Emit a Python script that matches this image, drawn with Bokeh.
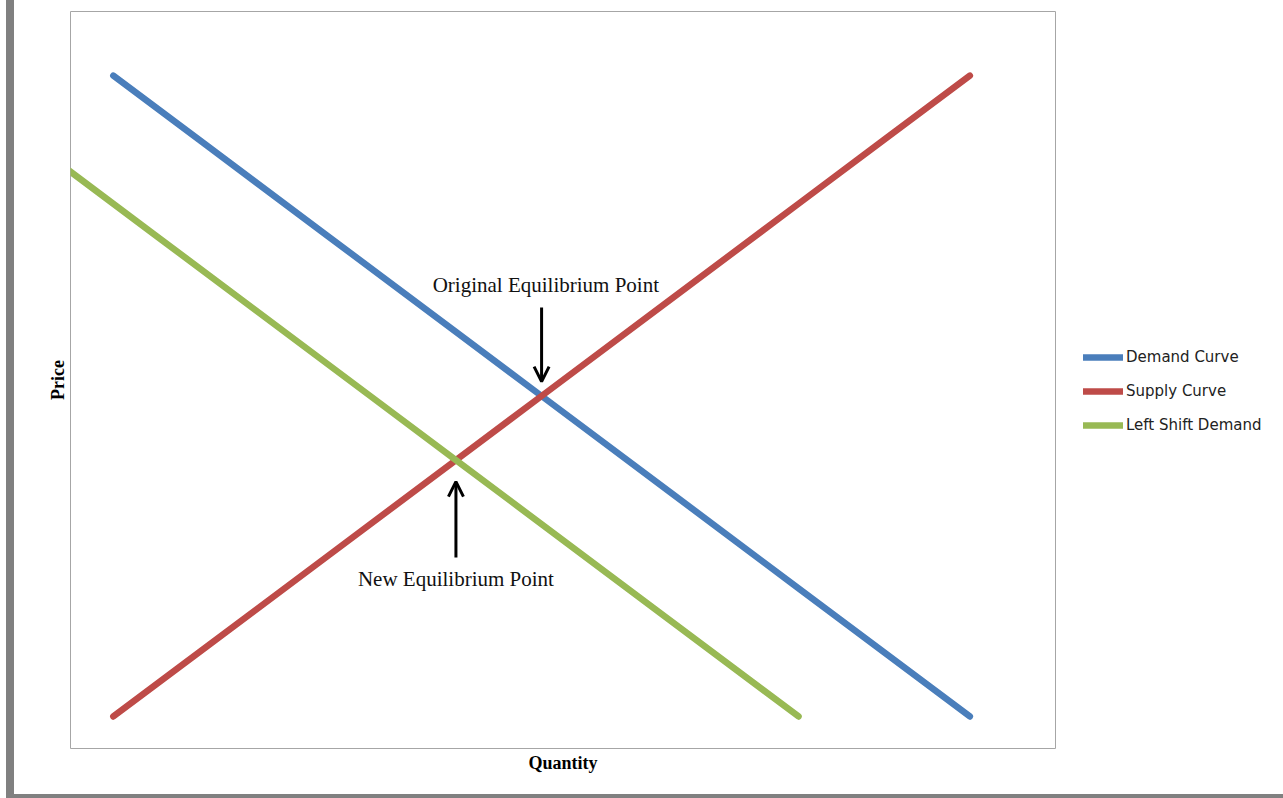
from bokeh.plotting import figure
from bokeh.models import Range1d, Legend, LegendItem, Arrow, OpenHead, Label, FixedTicker
from bokeh.embed import file_html
from bokeh.resources import INLINE

# Curve data (quantity, price)
quantity = [1, 2, 3, 6, 9, 11, 14, 17, 19, 21]
demand_price = [21, 20, 19, 16, 13, 11, 8, 5, 3, 1]
supply_price = [1, 2, 3, 6, 9, 11, 14, 17, 19, 21]
shift_quantity = [-1, 0, 2, 7, 9, 14, 17]
shift_price = [19, 18, 16, 11, 9, 4, 1]

series_names = ["Demand Curve", "Supply Curve", "Left Shift Demand"]
series_colors = ["#4A7EBB", "#BE4B48", "#98B954"]

original_eq = (11, 11)
new_eq = (9, 9)

p = figure(
    output_backend="svg", toolbar_location=None,
    frame_width=985, frame_height=737,
    min_border_left=70, min_border_right=228, min_border_top=11, min_border_bottom=50,
    x_range=Range1d(0, 23), y_range=Range1d(0, 23),
    background_fill_color="white", border_fill_color=None,
)
# grey page edges (left, right, bottom), painted behind the transparent canvas border
p.styles = {
    "box-shadow": "inset 6px 0 0 #ffffff, inset 14px 0 0 #808080, "
                  "inset -5px 0 0 #808080, inset 0 -4px 0 #808080",
    "background-color": "#ffffff",
}
p.outline_line_color = "#A6A6A6"
p.outline_line_width = 1
p.grid.visible = False

for ax in (p.xaxis[0], p.yaxis[0]):
    ax.ticker = FixedTicker(ticks=[])
    ax.axis_line_color = None
    ax.major_tick_line_color = None
    ax.minor_tick_line_color = None
    ax.major_label_text_font_size = "0px"
    ax.axis_label_text_font = "Liberation Serif"
    ax.axis_label_text_font_style = "bold"
    ax.axis_label_text_font_size = "18px"
    ax.axis_label_text_color = "black"
p.xaxis.axis_label = "Quantity"
p.yaxis.axis_label = "Price"
p.xaxis.axis_label_standoff = 4
p.yaxis.axis_label_standoff = 3

lw = 6.5
r_d = p.line(quantity, demand_price, line_color=series_colors[0], line_width=lw, line_cap="round", line_join="round")
r_s = p.line(quantity, supply_price, line_color=series_colors[1], line_width=lw, line_cap="round", line_join="round")
r_l = p.line(shift_quantity, shift_price, line_color=series_colors[2], line_width=lw, line_cap="round", line_join="round")

legend = Legend(
    items=[LegendItem(label=n, renderers=[r]) for n, r in zip(series_names, [r_d, r_s, r_l])],
    location=(28, 313),
    glyph_width=40, glyph_height=20, label_height=20, spacing=14,
    label_standoff=3, padding=0, margin=0,
    label_text_font="DejaVu Sans", label_text_font_size="15px", label_text_color="#222222",
    border_line_color=None, background_fill_alpha=0,
)
p.add_layout(legend, "right")

head = dict(size=15, line_width=3, line_color="black")
p.add_layout(Arrow(end=OpenHead(**head), x_start=original_eq[0], y_start=original_eq[1] + 2.76,
                   x_end=original_eq[0], y_end=original_eq[1] + 0.45, line_width=3, line_color="black"))
p.add_layout(Arrow(end=OpenHead(**head), x_start=new_eq[0], y_start=new_eq[1] - 3.04,
                   x_end=new_eq[0], y_end=new_eq[1] - 0.67, line_width=3, line_color="black"))

lbl = dict(text_font="Liberation Serif", text_font_size="21px", text_color="#111111",
           text_align="center", text_baseline="middle")
p.add_layout(Label(x=original_eq[0] + 0.1, y=original_eq[1] + 3.48, text="Original Equilibrium Point", **lbl))
p.add_layout(Label(x=new_eq[0], y=new_eq[1] - 3.7, text="New Equilibrium Point", **lbl))

open("out.html", "w").write(file_html(p, INLINE))
